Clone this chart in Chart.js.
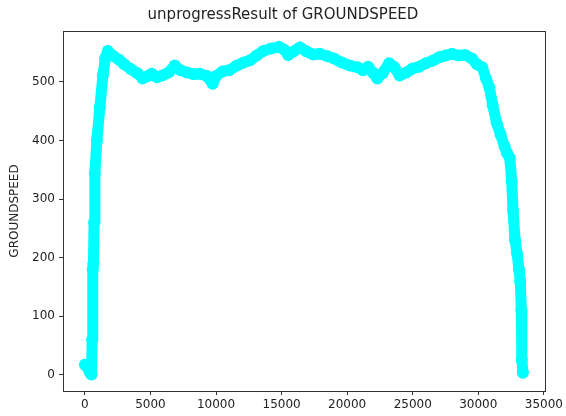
<!DOCTYPE html>
<html>
<head>
<meta charset="utf-8">
<title>unprogressResult of GROUNDSPEED</title>
<script src="https://cdn.jsdelivr.net/npm/chart.js@4"></script>
<style>
  html, body { margin: 0; padding: 0; background: #fff; }
  #wrap { width: 566px; height: 416px; }
</style>
</head>
<body>
<div id="wrap"><canvas id="chart"></canvas></div>
<script>
// Series
const timeIndex = [
    0, 200, 400, 500, 550, 600, 650, 700, 760, 910, 1140, 1370, 1550, 1750, 2100,
    2600, 3000, 3500, 4000, 4400, 4800, 5100, 5500, 5900, 6400, 6850, 7300, 7800,
    8300, 8750, 9300, 9750, 10000, 10500, 11000, 11600, 12100, 12600, 13100, 13600,
    14200, 14800, 15200, 15500, 15900, 16400, 16900, 17400, 17900, 18500, 19000,
    19600, 20200, 20800, 21200, 21600, 22000, 22300, 22700, 23200, 23600, 24000,
    24500, 25000, 25500, 26000, 26500, 27000, 27500, 28000, 28500, 29000, 29500,
    29900, 30300, 30600, 30850, 31100, 31400, 31700, 32000, 32200, 32400, 32550,
    32650, 32800, 32950, 33100, 33200, 33280, 33320, 33400
];
const groundSpeed = [
    17, 12, 3, 0, 60, 180, 190, 260, 344, 400, 456, 511, 540, 553, 545,
    538, 530, 522, 515, 506, 510, 514, 508, 511, 516, 528, 520, 516,
    513, 514, 510, 497, 510, 518, 520, 528, 533, 537, 545, 553,
    557, 560, 555, 546, 552, 559, 552, 547, 548, 544, 540,
    533, 528, 525, 520, 526, 515, 506, 515, 532, 525, 511,
    516, 523, 526, 532, 536, 542, 545, 548, 545, 546, 540,
    530, 525, 505, 490, 460, 430, 410, 390, 378, 370, 330,
    280, 230, 208, 180, 160, 111, 26, 3
];

// Tick labels
const xTicks = [0, 5000, 10000, 15000, 20000, 25000, 30000, 35000];
const yTicks = [0, 100, 200, 300, 400, 500];

const FONT = "'DejaVu Sans', sans-serif";
const TEXT_COLOR = '#222';
const AXIS_COLOR = '#333';

// Draw the full box round the plot area, like matplotlib
const frameBox = {
    id: 'frameBox',
    afterDraw(chart) {
        const { ctx, chartArea: a } = chart;
        ctx.save();
        ctx.strokeStyle = AXIS_COLOR;
        ctx.lineWidth = 1;
        ctx.strokeRect(Math.round(a.left) + 0.5, Math.round(a.top) + 0.5,
            Math.round(a.right - a.left), Math.round(a.bottom - a.top));
        ctx.restore();
    }
};

const points = timeIndex.map((t, i) => ({ x: t, y: groundSpeed[i] }));

new Chart(document.getElementById('chart'), {
    type: 'line',
    data: {
        datasets: [{
            data: points,
            borderColor: '#00ffff',
            backgroundColor: '#00ffff',
            borderWidth: 11,
            borderJoinStyle: 'round',
            borderCapStyle: 'round',
            pointRadius: 6,
            pointBorderWidth: 0,
            pointBackgroundColor: '#00ffff',
            tension: 0,
            fill: false,
            clip: false
        }]
    },
    options: {
        responsive: true,
        maintainAspectRatio: false,
        animation: false,
        layout: { padding: 0 },
        plugins: {
            legend: { display: false },
            tooltip: { enabled: false },
            title: {
                // centred on the whole figure, like a suptitle
                display: true,
                text: 'unprogressResult of GROUNDSPEED',
                color: TEXT_COLOR,
                font: { family: FONT, size: 15, weight: 'normal', lineHeight: 1.2 },
                padding: { top: 6, bottom: 7 }
            }
        },
        scales: {
            x: {
                type: 'linear',
                min: -1670,
                max: 35070,
                afterBuildTicks: (scale) => { scale.ticks = xTicks.map(v => ({ value: v })); },
                afterFit: (scale) => { scale.height = 25; },
                grid: {
                    drawOnChartArea: false,
                    drawTicks: true,
                    tickLength: 4,
                    color: AXIS_COLOR
                },
                border: { display: true, color: AXIS_COLOR },
                ticks: {
                    color: TEXT_COLOR,
                    padding: 3,
                    maxRotation: 0,
                    autoSkip: false,
                    font: { family: FONT, size: 12 },
                    callback: (v) => String(v)
                }
            },
            y: {
                type: 'linear',
                min: -28,
                max: 587,
                afterBuildTicks: (scale) => { scale.ticks = yTicks.map(v => ({ value: v })); },
                afterFit: (scale) => { scale.width = 63; },
                grid: {
                    drawOnChartArea: false,
                    drawTicks: true,
                    tickLength: 4,
                    color: AXIS_COLOR
                },
                border: { display: true, color: AXIS_COLOR },
                title: {
                    display: true,
                    text: 'GROUNDSPEED',
                    color: TEXT_COLOR,
                    font: { family: FONT, size: 12 },
                    padding: { top: 8, bottom: 0 }
                },
                ticks: {
                    color: TEXT_COLOR,
                    padding: 4,
                    autoSkip: false,
                    font: { family: FONT, size: 12 },
                    callback: (v) => String(v)
                }
            },
            // empty right-hand strip so the title stays centred on the canvas
            yRight: {
                type: 'linear',
                position: 'right',
                min: 0,
                max: 1,
                afterFit: (scale) => { scale.width = 20; },
                grid: { display: false },
                border: { display: false },
                ticks: { display: false }
            }
        }
    },
    plugins: [frameBox]
});
</script>
</body>
</html>
